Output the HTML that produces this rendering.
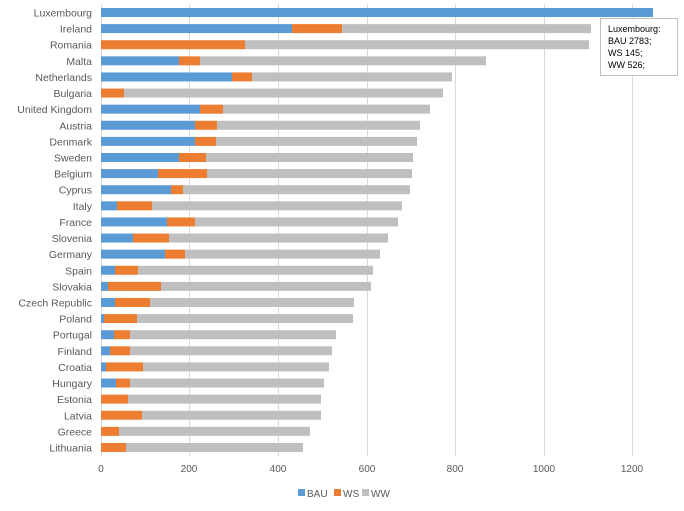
<!DOCTYPE html>
<html><head><style>
body{margin:0;background:#fff;}
svg text{font-family:"Liberation Sans",sans-serif;fill:#595959;}
</style></head><body>
<svg width="684" height="506" xmlns="http://www.w3.org/2000/svg">
<g stroke="#d9d9d9" stroke-width="1">
<line x1="189.5" y1="4" x2="189.5" y2="456"/><line x1="278.5" y1="4" x2="278.5" y2="456"/>
<line x1="367.5" y1="4" x2="367.5" y2="456"/><line x1="455.5" y1="4" x2="455.5" y2="456"/>
<line x1="544.5" y1="4" x2="544.5" y2="456"/><line x1="632.5" y1="4" x2="632.5" y2="456"/>
<line x1="101.5" y1="4" x2="101.5" y2="456"/>
</g>
<g id="bars"></g>
<g font-size="10" text-anchor="middle">
<text x="101" y="472">0</text><text x="189" y="472">200</text><text x="278" y="472">400</text>
<text x="367" y="472">600</text><text x="455" y="472">800</text><text x="544" y="472">1000</text><text x="632" y="472">1200</text>
</g>
<g font-size="10">
<rect x="298" y="489" width="7" height="7" fill="#5b9bd5"/><text x="307" y="497">BAU</text>
<rect x="334" y="489" width="7" height="7" fill="#ed7d31"/><text x="343" y="497">WS</text>
<rect x="362" y="489" width="7" height="7" fill="#a5a5a5" style="fill:#bfbfbf"/><text x="371" y="497">WW</text>
</g>
<rect x="600.5" y="18.5" width="77" height="57" fill="#fff" stroke="#bfbfbf"/>
<g font-size="9" style="fill:#000">
<text x="608" y="32" style="fill:#000">Luxembourg:</text>
<text x="608" y="44" style="fill:#000">BAU 2783;</text>
<text x="608" y="56" style="fill:#000">WS 145;</text>
<text x="608" y="68" style="fill:#000">WW 526;</text>
</g>
<g id="labels" font-size="10.5" text-anchor="end"></g>
</svg>
<script>
var d=[["Luxembourg",653,653,653],["Ireland",292,342,591],["Romania",101,245,589],["Malta",179,200,486],["Netherlands",232,252,452],["Bulgaria",101,124,443],["United Kingdom",200,223,430],["Austria",195,217,420],["Denmark",195,216,417],["Sweden",179,206,413],["Belgium",158,207,412],["Cyprus",171,183,410],["Italy",117,152,402],["France",167,195,398],["Slovenia",133,169,388],["Germany",165,185,380],["Spain",115,138,373],["Slovakia",108,161,371],["Czech Republic",115,150,354],["Poland",104,137,353],["Portugal",114,130,336],["Finland",110,130,332],["Croatia",106,143,329],["Hungary",116,130,324],["Estonia",101,128,321],["Latvia",101,142,321],["Greece",101,119,310],["Lithuania",101,126,303]];
var ns="http://www.w3.org/2000/svg",b=document.getElementById("bars"),l=document.getElementById("labels");
function r(x1,x2,y,c){if(x2<=x1)return;var e=document.createElementNS(ns,"rect");e.setAttribute("x",x1);e.setAttribute("y",y-4.5);e.setAttribute("width",x2-x1);e.setAttribute("height",9);e.setAttribute("fill",c);b.appendChild(e);}
d.forEach(function(a,i){var y=12.5+i*16.11;r(101,a[1],y,"#5b9bd5");r(a[1],a[2],y,"#ed7d31");r(a[2],a[3],y,"#bfbfbf");
var t=document.createElementNS(ns,"text");t.setAttribute("x",92);t.setAttribute("y",y+4);t.textContent=a[0];l.appendChild(t);});
</script>
</body></html>
